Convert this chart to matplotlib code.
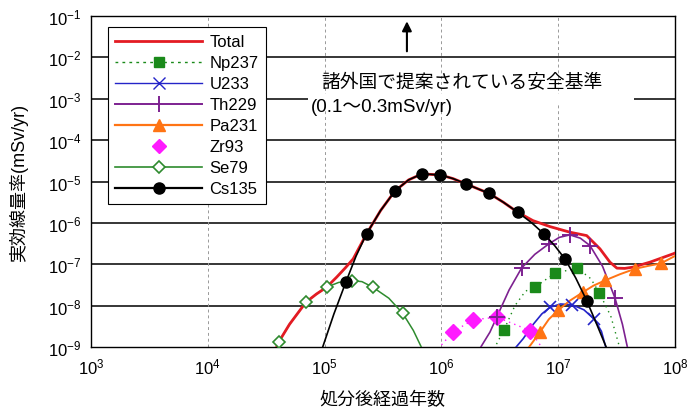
import numpy as np
import matplotlib.pyplot as plt
from matplotlib.lines import Line2D

plt.rcParams['font.family'] = ['Liberation Sans', 'Noto Sans CJK JP', 'DejaVu Sans']
plt.rcParams['mathtext.fontset'] = 'custom'
plt.rcParams['mathtext.rm'] = 'Liberation Sans'

# log10(経過年数), log10(線量率 mSv/yr)
total_t = [4.575, 4.61, 4.70, 4.841, 4.93, 5.018, 5.104, 5.18, 5.245, 5.359, 5.48, 5.603, 5.72,
           5.834, 5.992, 6.10, 6.211, 6.408, 6.53, 6.653, 6.784, 6.93, 7.10, 7.244, 7.358,
           7.443, 7.503, 7.57, 7.640, 7.786, 7.983, 8.0]
total_d = [-9.1, -8.867, -8.45, -7.916, -7.72, -7.553, -7.31, -7.08, -6.87, -6.266, -5.70, -5.227,
           -4.96, -4.816, -4.841, -4.93, -5.058, -5.287, -5.50, -5.742, -5.945, -6.09, -6.225,
           -6.307, -6.628, -6.949, -7.094, -7.10, -7.070, -6.949, -6.749, -6.73]

np_t = [6.45, 6.536, 6.63, 6.72, 6.801, 6.973, 7.164, 7.28, 7.352, 7.45, 7.53]
np_d = [-9.05, -8.585, -8.0, -7.65, -7.553, -7.215, -7.094, -7.35, -7.69, -8.25, -9.05]
np_mt = [6.536, 6.801, 6.973, 7.164, 7.352]
np_md = [-8.585, -7.553, -7.215, -7.094, -7.69]

u_t = [6.616, 6.70, 6.787, 6.86, 6.93, 7.02, 7.12, 7.22, 7.31, 7.37, 7.415]
u_d = [-9.08, -8.80, -8.45, -8.20, -8.04, -7.96, -7.98, -8.10, -8.33, -8.62, -9.08]
u_mt = [6.93, 7.12, 7.31]
u_md = [-8.04, -7.98, -8.33]

th_t = [6.316, 6.416, 6.474, 6.58, 6.687, 6.80, 6.92, 7.01, 7.10, 7.19, 7.272, 7.38, 7.486, 7.55, 7.60]
th_d = [-9.1, -8.64, -8.278, -7.62, -7.09, -6.76, -6.507, -6.35, -6.29, -6.37, -6.548, -7.05, -7.81, -8.45, -9.1]
th_mt = [6.474, 6.687, 6.92, 7.101, 7.272, 7.486]
th_md = [-8.278, -7.09, -6.507, -6.29, -6.548, -7.81]

pa_t = [6.73, 6.79, 6.844, 6.92, 7.001, 7.10, 7.215, 7.30, 7.401, 7.53, 7.658, 7.77, 7.878, 8.0]
pa_d = [-9.08, -8.85, -8.64, -8.33, -8.11, -7.88, -7.67, -7.52, -7.39, -7.24, -7.11, -7.04, -6.98, -6.80]
pa_mt = [6.844, 7.001, 7.215, 7.401, 7.658, 7.882]
pa_md = [-8.64, -8.11, -7.67, -7.39, -7.11, -6.98]

zr_t = [5.97, 6.102, 6.273, 6.474, 6.759, 6.87]
zr_d = [-9.05, -8.626, -8.343, -8.278, -8.601, -9.05]
zr_mt = [6.102, 6.273, 6.474, 6.759]
zr_md = [-8.626, -8.343, -8.278, -8.601]

se_t = [4.575, 4.61, 4.70, 4.841, 4.93, 5.018, 5.12, 5.232, 5.32, 5.412, 5.55, 5.669, 5.76, 5.845]
se_d = [-9.1, -8.867, -8.45, -7.916, -7.72, -7.553, -7.44, -7.394, -7.42, -7.553, -7.82, -8.186, -8.6, -9.1]
se_mt = [4.61, 4.841, 5.018, 5.232, 5.412, 5.669]
se_md = [-8.867, -7.916, -7.553, -7.394, -7.553, -8.186]

cs_t = [4.978, 5.08, 5.183, 5.27, 5.359, 5.48, 5.603, 5.72, 5.834, 5.992, 6.10, 6.211, 6.408,
        6.53, 6.653, 6.77, 6.878, 6.97, 7.058, 7.15, 7.244, 7.33, 7.418]
cs_d = [-9.05, -8.2, -7.425, -6.80, -6.266, -5.70, -5.227, -4.96, -4.816, -4.841, -4.93, -5.058,
        -5.287, -5.50, -5.742, -5.99, -6.266, -6.55, -6.870, -7.33, -7.877, -8.45, -9.05]
cs_mt = [5.183, 5.359, 5.603, 5.834, 5.992, 6.211, 6.408, 6.653, 6.878, 7.058, 7.244]
cs_md = [-7.425, -6.266, -5.227, -4.816, -4.841, -5.058, -5.287, -5.742, -6.266, -6.870, -7.877]

arrow_t = 5.705
arrow_from, arrow_to = -1.92, -1.06


def p(a):
    return 10 ** np.array(a)


fig = plt.figure(figsize=(6.96, 4.14), dpi=100)
ax = fig.add_axes([0.1307, 0.1594, 0.8391, 0.7995])
ax.set_xscale('log')
ax.set_yscale('log')
ax.set_xlim(1e3, 1e8)
ax.set_ylim(1e-9, 1e-1)

# 目盛り線
for k in range(-8, -1):
    ax.axhline(10.0 ** k, color='black', lw=1.1, zorder=1)
for k in range(4, 8):
    ax.axvline(10.0 ** k, color='#999999', lw=0.7, ls=(0, (3, 3)), zorder=1)

c_tot = '#e31b23'
c_np = '#1a8a1a'
c_u = '#2424c8'
c_th = '#7d2190'
c_pa = '#ff7414'
c_zr = '#ff1aff'
c_se = '#2e8b2e'

ax.plot(p(se_t), p(se_d), color=c_se, lw=1.1, zorder=3)
ax.plot(p(se_mt), p(se_md), ls='none', marker='D', ms=6, mfc='white', mec=c_se, mew=1.2, zorder=4)

ax.plot(p(zr_t), p(zr_d), color=c_zr, lw=1.0, ls=(0, (1, 3)), zorder=3)
ax.plot(p(zr_mt), p(zr_md), ls='none', marker='D', ms=8, color=c_zr, zorder=4)

ax.plot(p(np_t), p(np_d), color=c_np, lw=1.0, ls=(0, (1, 3)), zorder=3)
ax.plot(p(np_mt), p(np_md), ls='none', marker='s', ms=7, color=c_np, zorder=4)

ax.plot(p(th_t), p(th_d), color=c_th, lw=1.2, zorder=3)
ax.plot(p(th_mt), p(th_md), ls='none', marker='+', ms=11, mew=1.4, color=c_th, zorder=4)

ax.plot(p(u_t), p(u_d), color=c_u, lw=1.2, zorder=3)
ax.plot(p(u_mt), p(u_md), ls='none', marker='x', ms=8, mew=1.2, color=c_u, zorder=4)

ax.plot(p(pa_t), p(pa_d), color=c_pa, lw=1.4, zorder=3)
ax.plot(p(pa_mt), p(pa_md), ls='none', marker='^', ms=9, color=c_pa, zorder=4)

ax.plot(p(total_t), p(total_d), color=c_tot, lw=2.0, zorder=3)

ax.plot(p(cs_t), p(cs_d), color='black', lw=1.2, zorder=4)
ax.plot(p(cs_mt), p(cs_md), ls='none', marker='o', ms=8, color='black', zorder=5)

# 安全基準の注記
ax.annotate('', xy=(10 ** arrow_t, 10 ** arrow_to), xytext=(10 ** arrow_t, 10 ** arrow_from),
            arrowprops=dict(arrowstyle='-|>', color='black', lw=1.5, mutation_scale=14), zorder=6)
ax.fill_between([10 ** 4.86, 10 ** 7.65], 10 ** -3.12, 10 ** -2.88, color='white', zorder=5, lw=0)
ax.text(10 ** 4.975, 10 ** -2.60, '諸外国で提案されている安全基準', fontsize=13.5,
        ha='left', va='center', zorder=6)
ax.text(10 ** 4.88, 10 ** -3.19, '(0.1～0.3mSv/yr)', fontsize=13.5,
        ha='left', va='center', zorder=6)

handles = [
    Line2D([], [], color=c_tot, lw=2.0),
    Line2D([], [], color=c_np, lw=1.0, ls=(0, (2, 3)), marker='s', ms=7),
    Line2D([], [], color=c_u, lw=1.0, marker='x', ms=8),
    Line2D([], [], color=c_th, lw=1.4, marker='|', ms=11, mew=1.4),
    Line2D([], [], color=c_pa, lw=1.6, marker='^', ms=9),
    Line2D([], [], color=c_zr, ls='none', marker='D', ms=7),
    Line2D([], [], color=c_se, lw=1.2, marker='D', ms=6, mfc='white', mec=c_se, mew=1.2),
    Line2D([], [], color='black', lw=1.6, marker='o', ms=8),
]
labels = ['Total', 'Np237', 'U233', 'Th229', 'Pa231', 'Zr93', 'Se79', 'Cs135']
leg = ax.legend(handles, labels, loc='upper left', bbox_to_anchor=(0.029, 0.967),
                borderaxespad=0, fontsize=12, handlelength=5.2, handletextpad=0.45,
                labelspacing=0.36, borderpad=0.45, fancybox=False, framealpha=1,
                edgecolor='black')
leg.get_frame().set_linewidth(0.8)
leg.set_zorder(7)

ax.tick_params(which='both', length=0, labelsize=12, pad=7)
ax.minorticks_off()
ax.set_xticks([10.0 ** k for k in range(3, 9)])
ax.set_yticks([10.0 ** k for k in range(-9, 0)])
for s in ax.spines.values():
    s.set_linewidth(1.0)

ax.set_xlabel('処分後経過年数', fontsize=13, labelpad=10)
ax.set_ylabel('実効線量率(mSv/yr)', fontsize=13, labelpad=14)

fig.savefig('out.png', dpi=100)
